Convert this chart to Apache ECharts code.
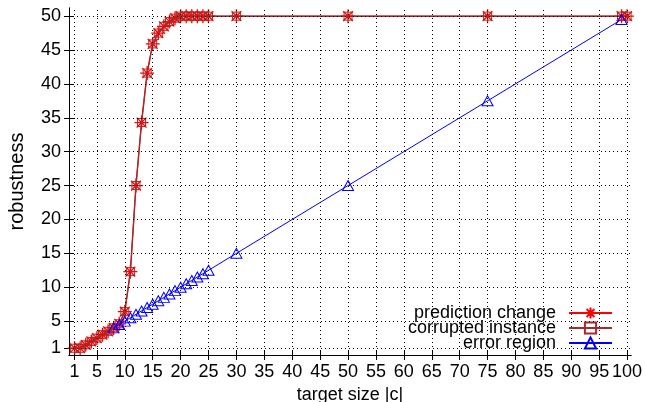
<!DOCTYPE html>
<html>
<head>
<meta charset="utf-8">
<script src="https://cdn.jsdelivr.net/npm/echarts@6/dist/echarts.min.js"></script>
<style>
html, body { margin: 0; padding: 0; background: #fff; }
#chart { width: 645px; height: 402px; }
</style>
</head>
<body>
<div id="chart"></div>
<script>
// tick labels
var xTicks = [1, 5, 10, 15, 20, 25, 30, 35, 40, 45, 50, 55, 60, 65, 70, 75, 80, 85, 90, 95, 100];
var yTicks = [1, 5, 10, 15, 20, 25, 30, 35, 40, 45, 50];

// prediction change / corrupted instance (same points)
var predX = [1, 2, 3, 4, 5, 6, 7, 8, 9, 10, 11, 12, 13, 14, 15, 16, 17, 18, 19, 20, 21, 22, 23, 24, 25, 30, 50, 75, 99, 100];
var predY = [1, 1, 1.5, 2, 2.5, 3, 3.5, 4, 4.6, 6.4, 12.3, 25, 34.3, 41.6, 45.9, 47.5, 48.5, 49.2, 49.7, 50, 50, 50, 50, 50, 50, 50, 50, 50, 50, 50];
var corrX = predX;
var corrY = predY;

// error region
var errX = [8, 9, 10, 11, 12, 13, 14, 15, 16, 17, 18, 19, 20, 21, 22, 23, 24, 25, 30, 50, 75, 99];
var errY = [4, 4.5, 5, 5.5, 6, 6.5, 7, 7.5, 8, 8.5, 9, 9.5, 10, 10.5, 11, 11.5, 12, 12.5, 15, 25, 37.5, 49.5];

function zip(xs, ys) {
    return xs.map(function (x, i) { return [x, ys[i]]; });
}

var FONT = 'Liberation Sans, Arial, sans-serif';
var starPath = 'path://M10,0 L10,20 M0,10 L20,10 M3,3 L17,17 M3,17 L17,3';

var chart = echarts.init(document.getElementById('chart'));

var gridLines = xTicks.map(function (v) { return { xAxis: v }; })
    .concat(yTicks.map(function (v) { return { yAxis: v }; }));

var option = {
    animation: false,
    backgroundColor: '#fff',
    textStyle: { fontFamily: FONT },
    grid: { left: 69, right: 14, top: 8, bottom: 47, outerBoundsMode: 'none', containLabel: false },
    legend: {
        orient: 'vertical',
        right: 27,
        top: 299,
        align: 'right',
        itemWidth: 43,
        itemHeight: 14,
        itemGap: -3,
        textStyle: { fontFamily: FONT, fontSize: 18, color: '#000', lineHeight: 16, padding: [0, 8, 0, 0] },
        data: ['prediction change', 'corrupted instance', 'error region']
    },
    xAxis: [
        {
            type: 'value', min: 0, max: 100.7,
            name: 'target size |c|', nameLocation: 'middle', nameGap: 28,
            nameTextStyle: { fontFamily: FONT, fontSize: 18, color: '#000' },
            axisLine: { lineStyle: { color: '#000', width: 1 } },
            axisTick: { inside: true, length: 5, customValues: xTicks, lineStyle: { color: '#000' } },
            axisLabel: { customValues: xTicks, fontFamily: FONT, fontSize: 18, color: '#000', margin: 8 },
            splitLine: { show: false }
        },
        {
            type: 'value', min: 0, max: 100.7, position: 'top',
            axisLine: { lineStyle: { color: '#000', width: 1 } },
            axisTick: { inside: true, length: 5, customValues: xTicks, lineStyle: { color: '#000' } },
            axisLabel: { show: false },
            splitLine: { show: false }
        }
    ],
    yAxis: [
        {
            type: 'value', min: 0, max: 51.2,
            name: 'robustness', nameLocation: 'middle', nameGap: 42,
            nameTextStyle: { fontFamily: FONT, fontSize: 20, color: '#000' },
            axisLine: { show: true, lineStyle: { color: '#000', width: 1 } },
            axisTick: { show: true, inside: true, length: 5, customValues: yTicks, lineStyle: { color: '#000' } },
            axisLabel: { customValues: yTicks, fontFamily: FONT, fontSize: 18, color: '#000', margin: 8 },
            splitLine: { show: false }
        },
        {
            type: 'value', min: 0, max: 51.2, position: 'right',
            axisLine: { show: true, lineStyle: { color: '#000', width: 1 } },
            axisTick: { show: true, inside: true, length: 5, customValues: yTicks, lineStyle: { color: '#000' } },
            axisLabel: { show: false },
            splitLine: { show: false }
        }
    ],
    series: [
        {
            type: 'line',
            data: [],
            z: 1,
            silent: true,
            markLine: {
                silent: true,
                symbol: ['none', 'none'],
                label: { show: false },
                lineStyle: { color: '#000', width: 1, type: [1, 3] },
                data: gridLines
            }
        },
        {
            name: 'prediction change',
            type: 'line',
            z: 3,
            data: zip(predX, predY),
            symbol: starPath,
            symbolSize: 14,
            lineStyle: { color: '#ff0000', width: 1 },
            itemStyle: { color: '#ff0000', borderColor: '#ff0000', borderWidth: 1.3 }
        },
        {
            name: 'corrupted instance',
            type: 'line',
            z: 4,
            data: zip(corrX, corrY),
            symbol: 'rect',
            symbolSize: 8,
            lineStyle: { color: '#a52a2a', width: 1.5 },
            itemStyle: { color: 'transparent', borderColor: '#a52a2a', borderWidth: 1 }
        },
        {
            name: 'error region',
            type: 'line',
            z: 5,
            data: zip(errX, errY),
            symbol: 'triangle',
            symbolSize: [11, 10],
            lineStyle: { color: '#0000ff', width: 1 },
            itemStyle: { color: 'transparent', borderColor: '#0000ff', borderWidth: 1 }
        }
    ]
};

chart.setOption(option);
</script>
</body>
</html>
